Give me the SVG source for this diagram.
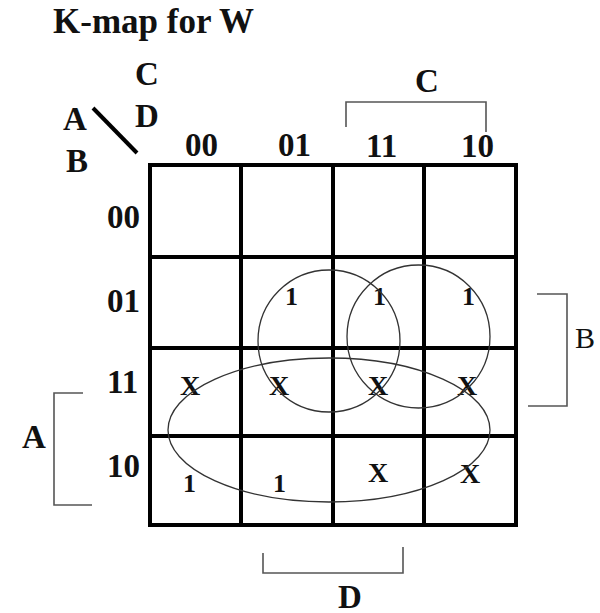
<svg xmlns="http://www.w3.org/2000/svg" width="600" height="613" viewBox="0 0 600 613">
<style>
text{font-family:"Liberation Serif","Times New Roman",serif;font-weight:bold;fill:#111}
.t{font-size:35px}
.l{font-size:33px}
.v{font-size:30px;font-weight:normal}
.c1{font-size:26px}
.cx{font-size:28px}
.grid{stroke:#000;stroke-width:4;fill:none}
.br{stroke:#555;stroke-width:1.6;fill:none}
.loop{stroke:#333;stroke-width:1.3;fill:none}
</style>
<rect width="600" height="613" fill="#fff"/>
<text class="t" x="53" y="33">K-map for W</text>
<g id="axis">
<text class="l" x="135" y="85">C</text>
<text class="l" x="135" y="127">D</text>
<text class="l" x="63" y="130">A</text>
<text class="l" x="66" y="172">B</text>
<line x1="93" y1="108" x2="137" y2="153" stroke="#000" stroke-width="4"/>
</g>
<g id="colLabels">
<text class="l" x="185" y="156">00</text>
<text class="l" x="278" y="156">01</text>
<text class="l" x="366" y="157">11</text>
<text class="l" x="461" y="157">10</text>
</g>
<g id="rowLabels">
<text class="l" x="107" y="228">00</text>
<text class="l" x="107" y="312">01</text>
<text class="l" x="107" y="393">11</text>
<text class="l" x="107" y="477">10</text>
</g>
<g id="grid" class="grid">
<rect x="150" y="165" width="366" height="360"/>
<line x1="241" y1="165" x2="241" y2="525"/>
<line x1="333" y1="165" x2="333" y2="525"/>
<line x1="424" y1="165" x2="424" y2="525"/>
<line x1="150" y1="257" x2="516" y2="257"/>
<line x1="150" y1="348" x2="516" y2="348"/>
<line x1="150" y1="436" x2="516" y2="436"/>
</g>
<g id="cells">
<text class="c1" x="285" y="305">1</text>
<text class="c1" x="373" y="305">1</text>
<text class="c1" x="462" y="305">1</text>
<text class="cx" x="180" y="395">X</text>
<text class="cx" x="269" y="395">X</text>
<text class="cx" x="368" y="395">X</text>
<text class="cx" x="457" y="395">X</text>
<text class="c1" x="183" y="492">1</text>
<text class="c1" x="273" y="492">1</text>
<text class="cx" x="368" y="482">X</text>
<text class="cx" x="460" y="483">X</text>
</g>
<g id="brackets">
<polyline class="br" points="346,127 346,102 486,102 486,132"/>
<text class="l" x="415" y="92">C</text>
<polyline class="br" points="537,294 567,294 567,406 528,406"/>
<text class="v" x="575" y="348">B</text>
<polyline class="br" points="83,393 54,393 54,505 92,505"/>
<text class="l" x="22" y="448">A</text>
<polyline class="br" points="263,553 263,573 403,573 403,547"/>
<text class="l" x="338" y="608">D</text>
</g>
<g id="loops">
<circle class="loop" cx="329" cy="341" r="71"/>
<circle class="loop" cx="418.5" cy="336.5" r="71.5"/>
<ellipse class="loop" cx="329" cy="430" rx="161" ry="72"/>
</g>
</svg>
